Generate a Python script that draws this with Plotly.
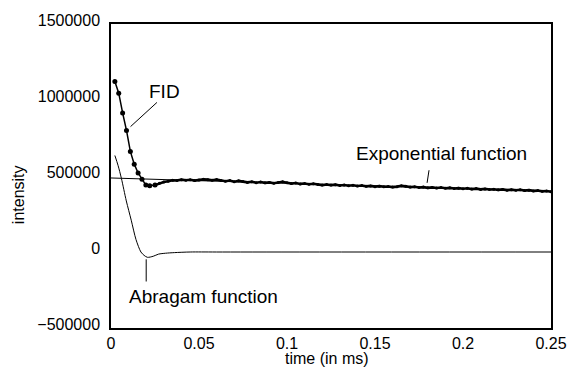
import numpy as np
import plotly.graph_objects as go

# --- FID signal (measured points) ---
fid_t_early = [0.0022, 0.0044, 0.0066, 0.0088, 0.0110, 0.0132, 0.0154, 0.0176, 0.0198, 0.0220]
fid_v_early = [1122000, 1045000, 915000, 800000, 662000, 578000, 520000, 478000, 440000, 436000]

fid_t_tail = list(np.round(np.linspace(0.025, 0.25, 91), 4))
fid_v_tail = [
    440000, 452000, 460000, 466000, 472000, 470000, 476000, 472000, 475000, 470000,
    474000, 478000, 476000, 472000, 477000, 470000, 466000, 470000, 462000, 468000,
    464000, 458000, 462000, 456000, 460000, 455000, 458000, 452000, 457000, 462000,
    456000, 450000, 454000, 448000, 451000, 446000, 449000, 444000, 440000, 444000,
    440000, 443000, 438000, 441000, 436000, 439000, 434000, 437000, 432000, 435000,
    430000, 433000, 429000, 431000, 427000, 430000, 436000, 432000, 427000, 429000,
    424000, 427000, 422000, 425000, 421000, 424000, 419000, 422000, 418000, 420000,
    416000, 419000, 414000, 417000, 412000, 415000, 411000, 413000, 409000, 412000,
    407000, 410000, 406000, 409000, 404000, 407000, 402000, 404000, 399000, 401000,
    396000,
]

fid_t = fid_t_early + fid_t_tail
fid_v = fid_v_early + fid_v_tail
n_early = len(fid_t_early)

# --- Exponential function fit ---
exp_t = [0.0, 0.05, 0.10, 0.15, 0.20, 0.25]
exp_v = [487000, 468000, 451000, 434000, 417000, 400000]

# --- Abragam function fit ---
abr_t = [0.0022, 0.0040, 0.0059, 0.0087, 0.0115, 0.0142, 0.0170, 0.0188, 0.0207,
         0.0240, 0.0270, 0.0310, 0.0360, 0.0450, 0.0600, 0.2500]
abr_v = [635000, 570000, 485000, 336000, 209000, 82000, 0, -22000, -35000,
         -28000, -14000, -8000, -4000, 0, 0, 0]

FONT = "Liberation Sans, Arial, Helvetica, sans-serif"

fig = go.Figure()

fig.add_trace(go.Scatter(
    x=exp_t, y=exp_v, mode="lines",
    line=dict(color="black", width=1), hoverinfo="skip",
))
fig.add_trace(go.Scatter(
    x=abr_t, y=abr_v, mode="lines",
    line=dict(color="black", width=1, shape="spline", smoothing=0.8),
    hoverinfo="skip",
))
# steep initial decay of the FID: thin line with distinct sample dots
fig.add_trace(go.Scatter(
    x=fid_t[:n_early + 1], y=fid_v[:n_early + 1], mode="lines+markers",
    line=dict(color="black", width=1.5),
    marker=dict(color="black", size=5),
    hoverinfo="skip",
))
# slowly decaying part: dense samples merge into a heavy ragged trace
fig.add_trace(go.Scatter(
    x=fid_t[n_early:], y=fid_v[n_early:], mode="lines+markers",
    line=dict(color="black", width=2.6),
    marker=dict(color="black", size=3),
    hoverinfo="skip",
))

# leader lines from labels to curves
leaders = [
    (0.0261, 984000, 0.0111, 825000),
    (0.1807, 538000, 0.1796, 455000),
    (0.0200, -48000, 0.0200, -194000),
]
for x0, y0, x1, y1 in leaders:
    fig.add_shape(type="line", x0=x0, y0=y0, x1=x1, y1=y1,
                  line=dict(color="black", width=1))

label_font = dict(family=FONT, size=19, color="black")
fig.add_annotation(x=0.0305, y=1054000, text="FID", showarrow=False,
                   font=label_font, xanchor="center", yanchor="middle")
fig.add_annotation(x=0.1879, y=646000, text="Exponential function", showarrow=False,
                   font=label_font, xanchor="center", yanchor="middle")
fig.add_annotation(x=0.0089, y=-290000, text="Abragam function", showarrow=False,
                   font=label_font, xanchor="left", yanchor="middle")

# axis titles
title_font = dict(family=FONT, size=16, color="black")
fig.add_annotation(xref="paper", yref="paper", x=0.492, y=-0.101,
                   text="time (in ms)", showarrow=False, font=title_font,
                   xanchor="center", yanchor="middle")
fig.add_annotation(xref="paper", yref="paper", x=-0.21, y=0.439,
                   text="intensity", showarrow=False, font=title_font,
                   textangle=-90, xanchor="center", yanchor="middle")

axis_common = dict(
    showline=True, linecolor="black", linewidth=1.5, mirror=True,
    showgrid=False, zeroline=False, ticks="",
    tickfont=dict(family=FONT, size=16, color="black"),
)

fig.update_layout(
    width=579, height=371, autosize=False,
    margin=dict(l=111, r=17, t=14, b=43),
    plot_bgcolor="white", paper_bgcolor="white",
    showlegend=False,
    xaxis=dict(range=[0, 0.25], tickvals=[0, 0.05, 0.1, 0.15, 0.2, 0.25],
               ticktext=["0", "0.05", "0.1", "0.15", "0.2", "0.25"],
               ticklabelstandoff=0, **axis_common),
    yaxis=dict(range=[-500000, 1500000],
               tickvals=[-500000, 0, 500000, 1000000, 1500000],
               ticktext=["\u2212500000", "0", "500000", "1000000", "1500000"],
               ticklabelstandoff=6, ticklabelshift=-4, **axis_common),
)

fig.write_html("out.html")
